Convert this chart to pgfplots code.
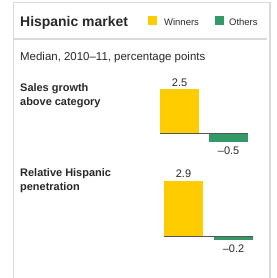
\documentclass[border=0pt]{standalone}
\usepackage{fontspec}
\setmainfont{Liberation Sans}
\usepackage{pgfplots}
\pgfplotsset{compat=1.18}
\definecolor{winY}{RGB}{255,204,0}
\definecolor{othG}{RGB}{51,153,102}
\definecolor{txt}{RGB}{40,40,40}
\definecolor{frame}{RGB}{218,218,218}
\definecolor{base}{RGB}{85,85,85}
\pgfplotsset{
  panel/.style={
    scale only axis, hide axis, clip=false,
    ybar, bar width=39bp,
    anchor=south west,
    point meta=explicit symbolic,
    nodes near coords,
    every node near coord/.append style={font=\fontsize{11}{13}\selectfont, text=txt, inner sep=2.5bp},
  },
  neg/.style={every node near coord/.append style={anchor=north, yshift=-1.5bp}},
}
\begin{document}
\begin{tikzpicture}[x=1bp,y=1bp]
\path[use as bounding box] (0,0) rectangle (277,278);
% frame
\draw[frame, line width=1.6bp] (13.5,0) -- (13.5,275.5) -- (270.2,275.5) -- (270.2,0);
\draw[frame, line width=1.2bp] (13.5,239) -- (267,239);
% header
\node[anchor=base west, inner sep=0, text=txt, font=\fontsize{14}{16}\selectfont\bfseries] at (20,252) {Hispanic market};
\fill[winY] (148,253) rectangle (157,262);
\node[anchor=base west, inner sep=0, text=txt, font=\fontsize{9.5}{11}\selectfont] at (164,253) {Winners};
\fill[othG] (215,253) rectangle (224,262);
\node[anchor=base west, inner sep=0, text=txt, font=\fontsize{9.5}{11}\selectfont] at (229,253) {Others};
\node[anchor=base west, inner sep=0, text=txt, font=\fontsize{11.5}{13}\selectfont] at (20,218) {Median, 2010–11, percentage points};
% row labels
\node[anchor=base west, inner sep=0, text=txt, font=\fontsize{11}{13}\selectfont\bfseries] at (20,186.5) {Sales growth};
\node[anchor=base west, inner sep=0, text=txt, font=\fontsize{11}{13}\selectfont\bfseries] at (20,172.5) {above category};
\node[anchor=base west, inner sep=0, text=txt, font=\fontsize{11}{13}\selectfont\bfseries] at (20,101.5) {Relative Hispanic};
\node[anchor=base west, inner sep=0, text=txt, font=\fontsize{11}{13}\selectfont\bfseries] at (20,87.5) {penetration};
% panel 1
\begin{axis}[panel, at={(160bp,135.6bp)}, width=88.2bp, height=53.4bp,
  xmin=-0.4, xmax=1.4, ymin=-0.5, ymax=2.5]
\addplot[fill=winY, draw=none, bar shift=0pt] coordinates {(0,2.5) [2.5]};
\addplot[fill=othG, draw=none, bar shift=0pt, neg] coordinates {(1,-0.5) [–0.5]};
\draw[base, line width=1bp] (axis cs:-0.4,0) -- (axis cs:1.4,0);
\end{axis}
% panel 2
\begin{axis}[panel, at={(164bp,37.6bp)}, width=89bp, height=59.8bp,
  xmin=-0.39, xmax=1.39, ymin=-0.2, ymax=2.9]
\addplot[fill=winY, draw=none, bar shift=0pt] coordinates {(0,2.9) [2.9]};
\addplot[fill=othG, draw=none, bar shift=0pt, neg] coordinates {(1,-0.2) [–0.2]};
\draw[base, line width=1bp] (axis cs:-0.39,0) -- (axis cs:1.39,0);
\end{axis}
\end{tikzpicture}
\end{document}
